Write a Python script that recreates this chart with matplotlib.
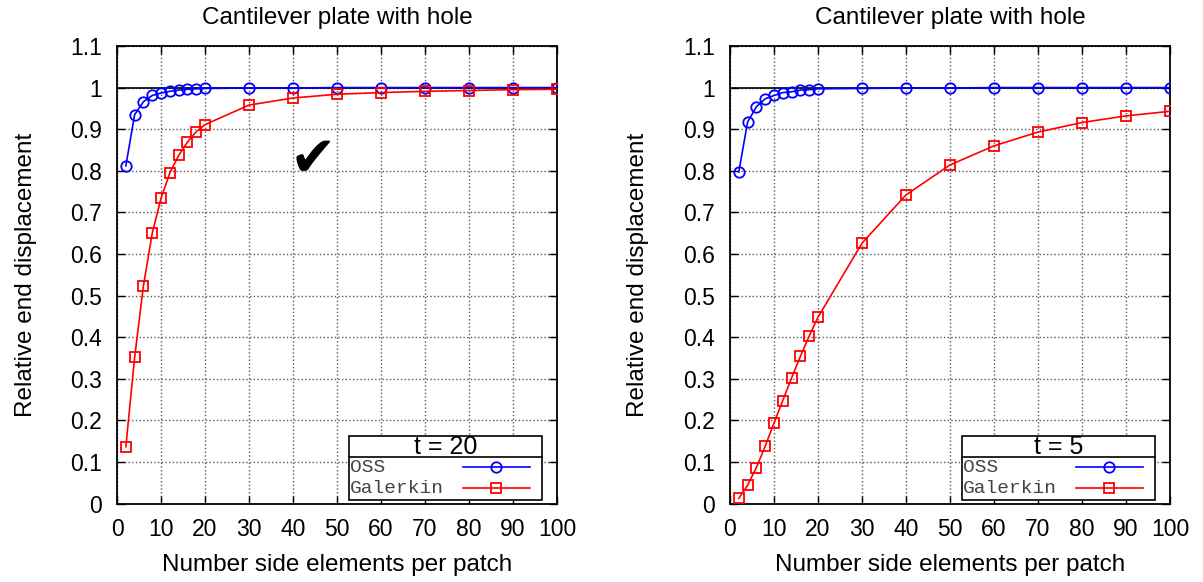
import matplotlib
matplotlib.use("Agg")
import matplotlib.pyplot as plt
from matplotlib.lines import Line2D
from matplotlib.patches import Rectangle
from matplotlib.ticker import FuncFormatter

plt.rcParams["font.family"] = ["Liberation Sans", "DejaVu Sans"]

# number of side elements per patch
n_elems = [2, 4, 6, 8, 10, 12, 14, 16, 18, 20, 30, 40, 50, 60, 70, 80, 90, 100]

# t = 20
oss_t20 = [0.812, 0.935, 0.966, 0.981, 0.987, 0.991, 0.994, 0.996, 0.997, 0.998,
           0.999, 0.999, 1.0, 1.0, 1.0, 1.0, 1.0, 1.0]
gal_t20 = [0.137, 0.352, 0.524, 0.650, 0.734, 0.795, 0.837, 0.869, 0.894, 0.911,
           0.958, 0.975, 0.984, 0.988, 0.991, 0.993, 0.995, 0.996]

# t = 5
oss_t5 = [0.797, 0.917, 0.954, 0.973, 0.981, 0.988, 0.990, 0.994, 0.995, 0.997,
          0.998, 0.999, 0.999, 1.0, 1.0, 1.0, 1.0, 1.0]
gal_t5 = [0.013, 0.044, 0.087, 0.138, 0.194, 0.248, 0.302, 0.354, 0.403, 0.448,
          0.626, 0.742, 0.814, 0.860, 0.893, 0.916, 0.932, 0.943]

panels = [
    ("t = 20", oss_t20, gal_t20, True),
    ("t = 5", oss_t5, gal_t5, False),
]

x_ticks = list(range(0, 101, 10))
y_ticks = [i / 10 for i in range(0, 12)]


def draw_legend(ax, title):
    x0, x1 = 0.527, 0.966
    y_bot, y_mid, y_top = 0.008, 0.102, 0.148
    ax.add_patch(Rectangle((x0, y_bot), x1 - x0, y_top - y_bot, transform=ax.transAxes,
                           facecolor="white", edgecolor="black", lw=1.2, zorder=5))
    ax.add_line(Line2D([x0, x1], [y_mid, y_mid], transform=ax.transAxes,
                       color="black", lw=1.2, zorder=6))
    ax.text((x0 + x1) / 2, (y_mid + y_top) / 2 - 0.002, title, transform=ax.transAxes,
            ha="center", va="center", fontsize=18, zorder=6)
    rows = [("OSS", "blue", "o", 0.080), ("Galerkin", "red", "s", 0.034)]
    for label, color, marker, y in rows:
        ax.text(x0 + 0.002, y, label, transform=ax.transAxes, ha="left", va="center",
                fontsize=14, family="Liberation Mono", color="#444444", zorder=6)
        ax.add_line(Line2D([0.786, 0.939], [y, y], transform=ax.transAxes,
                           color=color, lw=1.2, zorder=6))
        ax.add_line(Line2D([0.862], [y], transform=ax.transAxes, color=color,
                           marker=marker, markersize=7.5, markerfacecolor="none",
                           markeredgewidth=1.3, zorder=7))


fig = plt.figure(figsize=(12.03, 5.82), dpi=100)
axes = [fig.add_axes([0.0973, 0.1345, 0.3657, 0.7865]),
        fig.add_axes([0.6068, 0.1345, 0.3657, 0.7865])]

for ax, (title, oss, gal, check) in zip(axes, panels):
    ax.axhline(1.0, color="black", lw=1.2, zorder=2)
    ax.plot(n_elems, oss, color="blue", lw=1.2, marker="o", markersize=7.5,
            markerfacecolor="none", markeredgewidth=1.3, zorder=3)
    ax.plot(n_elems, gal, color="red", lw=1.2, marker="s", markersize=7.5,
            markerfacecolor="none", markeredgewidth=1.3, zorder=3)

    ax.set_xlim(0, 100)
    ax.set_ylim(0, 1.1)
    ax.set_xticks(x_ticks)
    ax.set_yticks(y_ticks)
    ax.yaxis.set_major_formatter(FuncFormatter(lambda v, p: f"{v:g}"))
    ax.tick_params(direction="in", length=6, width=1, top=True, right=True,
                   labelsize=16.5)
    ax.tick_params(axis="y", pad=11)
    ax.tick_params(axis="x", pad=10)
    ax.grid(True, color="0.35", linestyle=":", lw=1.0)
    for sp in ax.spines.values():
        sp.set_linewidth(1.3)

    ax.set_title("Cantilever plate with hole", fontsize=17.5, pad=16)
    ax.set_xlabel("Number side elements per patch", fontsize=17.5, labelpad=10)
    ax.set_ylabel("Relative end displacement", fontsize=17.5, labelpad=24)

    draw_legend(ax, title)

    if check:
        ax.text(44.5, 0.823, "\u2714", fontsize=40, family="DejaVu Sans",
                ha="center", va="center", zorder=4)

fig.savefig("out.png", dpi=100)
